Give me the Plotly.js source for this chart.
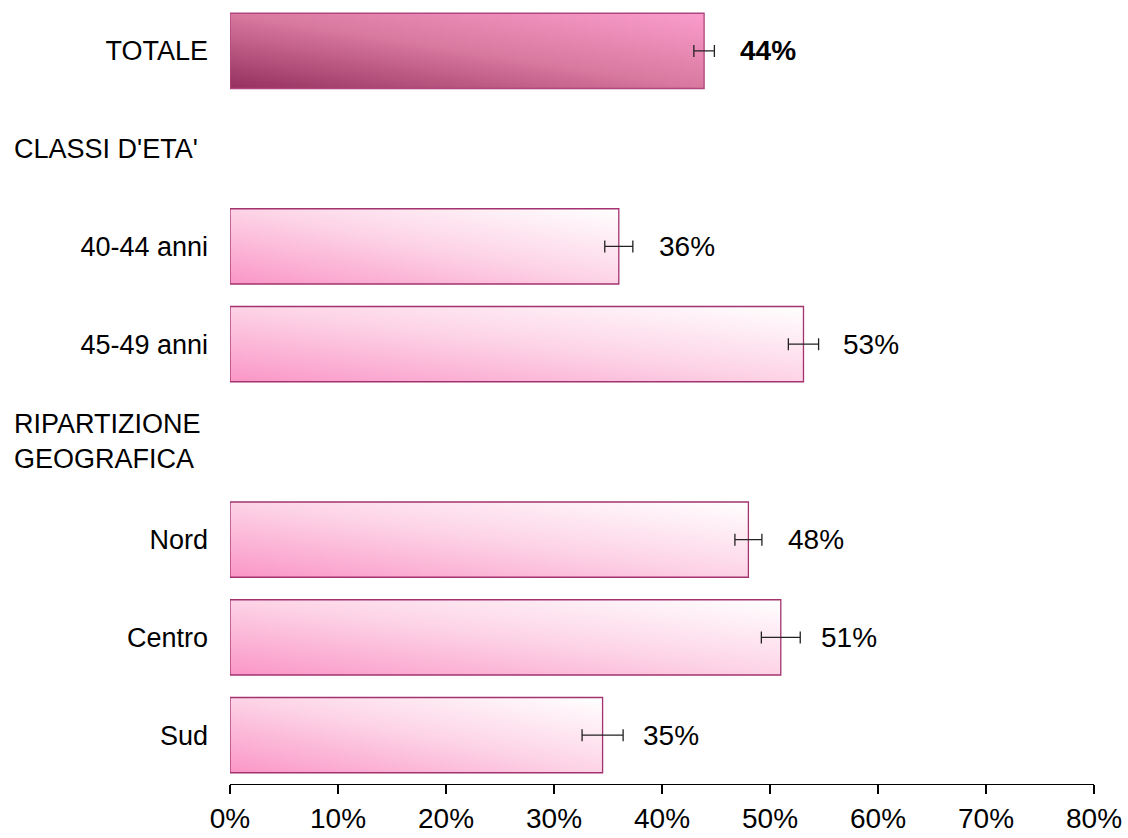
<!DOCTYPE html>
<html>
<head>
<meta charset="utf-8">
<script src="https://cdn.plot.ly/plotly-3.0.1.min.js"></script>
<style>
  html, body { margin: 0; padding: 0; background: #ffffff; }
  #chart { width: 1128px; height: 838px; }
</style>
</head>
<body>
<div id="chart"></div>
<script>
// ---- data ----
const categories = ["TOTALE", "CLASSI D'ETA'", "40-44 anni", "45-49 anni", "RIPARTIZIONE GEOGRAFICA", "Nord", "Centro", "Sud"];
const tickLabels = ["TOTALE", "", "40-44 anni", "45-49 anni", "", "Nord", "Centro", "Sud"];
const headerCategories = ["CLASSI D'ETA'", "RIPARTIZIONE GEOGRAFICA"];
const headerLabels = ["CLASSI D'ETA'", "RIPARTIZIONE<br>GEOGRAFICA"];

const totalCategory = ["TOTALE"];
const totalValue = [43.9];
const totalError = [0.95];
const totalLabel = ["44%"];

const groupCategories = ["40-44 anni", "45-49 anni", "Nord", "Centro", "Sud"];
const groupValues = [36.0, 53.1, 48.0, 51.0, 34.5];
const groupErrors = [1.3, 1.4, 1.25, 1.8, 1.9];
const groupLabels = ["36%", "53%", "48%", "51%", "35%"];

const xTickVals = [0, 10, 20, 30, 40, 50, 60, 70, 80];
const xTickText = ["0%", "10%", "20%", "30%", "40%", "50%", "60%", "70%", "80%"];

const FONT = "Liberation Sans, Arial, sans-serif";

const traces = [
  {
    type: "bar", orientation: "h",
    y: totalCategory, x: totalValue,
    marker: { color: "#d06a9c", line: { color: "#b0467e", width: 1.3 } },
    error_x: { type: "data", array: totalError, visible: true, color: "#222222", thickness: 1.3, width: 6 },
    hoverinfo: "none"
  },
  {
    type: "bar", orientation: "h",
    y: groupCategories, x: groupValues,
    marker: { color: "#fcd0e4", line: { color: "#a3336e", width: 1.3 } },
    error_x: { type: "data", array: groupErrors, visible: true, color: "#222222", thickness: 1.3, width: 6 },
    hoverinfo: "none"
  }
];

const annotations = [];
totalCategory.forEach((c, i) => annotations.push({
  x: totalValue[i], y: c, xref: "x", yref: "y", text: "<b>" + totalLabel[i] + "</b>",
  showarrow: false, xanchor: "left", yanchor: "middle", xshift: 34,
  font: { family: FONT, size: 28, color: "#000000" }
}));
groupCategories.forEach((c, i) => annotations.push({
  x: groupValues[i], y: c, xref: "x", yref: "y", text: groupLabels[i],
  showarrow: false, xanchor: "left", yanchor: "middle", xshift: 38,
  font: { family: FONT, size: 28, color: "#000000" }
}));
headerCategories.forEach((c, i) => annotations.push({
  x: -0.2528, y: c, xref: "paper", yref: "y", text: headerLabels[i],
  showarrow: false, xanchor: "left", yanchor: "middle", align: "left",
  font: { family: FONT, size: 27, color: "#000000" }
}));

const layout = {
  width: 1128, height: 838,
  margin: { l: 230, r: 34, t: 2, b: 54 },
  paper_bgcolor: "#ffffff", plot_bgcolor: "#ffffff",
  showlegend: false,
  barmode: "overlay",
  bargap: 0.23,
  font: { family: FONT, size: 27, color: "#000000" },
  xaxis: {
    range: [0, 80], tickvals: xTickVals, ticktext: xTickText,
    showgrid: false, zeroline: false,
    showline: true, linecolor: "#000000", linewidth: 1.3,
    ticks: "outside", ticklen: 9, tickwidth: 1.3, tickcolor: "#000000",
    tickfont: { family: FONT, size: 28, color: "#000000" },
    fixedrange: true
  },
  yaxis: {
    type: "category", categoryorder: "array", categoryarray: categories,
    tickvals: categories, ticktext: tickLabels,
    autorange: "reversed",
    showgrid: false, zeroline: false, showline: false, ticks: "",
    ticklabelstandoff: 21,
    tickfont: { family: FONT, size: 27, color: "#000000" },
    fixedrange: true
  },
  annotations: annotations
};

function addGradients(gd) {
  const svg = gd.querySelector("svg.main-svg");
  if (!svg) return;
  const NS = "http://www.w3.org/2000/svg";
  let defs = svg.querySelector("defs");
  if (!defs) { defs = document.createElementNS(NS, "defs"); svg.insertBefore(defs, svg.firstChild); }
  function grad(id, stops) {
    const g = document.createElementNS(NS, "linearGradient");
    g.setAttribute("id", id);
    g.setAttribute("x1", "0"); g.setAttribute("y1", "1");
    g.setAttribute("x2", "1"); g.setAttribute("y2", "0");
    stops.forEach(s => {
      const st = document.createElementNS(NS, "stop");
      st.setAttribute("offset", s[0]);
      st.setAttribute("stop-color", s[1]);
      g.appendChild(st);
    });
    defs.appendChild(g);
  }
  grad("gradTotal", [["0", "#96305f"], ["0.5", "#d8799f"], ["1", "#fb9dcd"]]);
  grad("gradGroup", [["0", "#fa96c7"], ["0.5", "#fdd3e6"], ["1", "#ffffff"]]);
  const traceEls = gd.querySelectorAll(".barlayer .trace");
  traceEls.forEach((t, idx) => {
    t.querySelectorAll(".point path").forEach(p => {
      p.style.fill = idx === 0 ? "url(#gradTotal)" : "url(#gradGroup)";
      p.style.fillOpacity = 1;
    });
  });
}

Plotly.newPlot("chart", traces, layout, { displayModeBar: false, staticPlot: true })
  .then(gd => addGradients(gd));
</script>
</body>
</html>
